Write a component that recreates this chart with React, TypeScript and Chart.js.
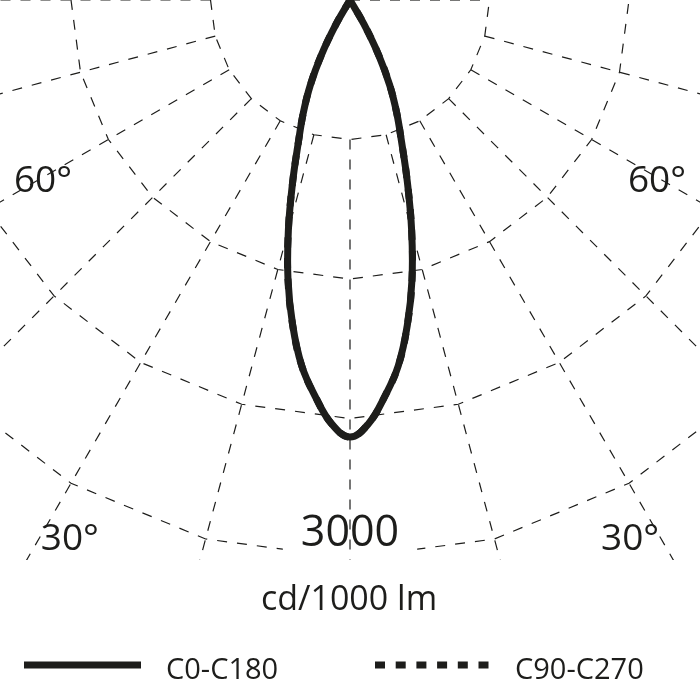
import React, { useEffect, useRef } from "react";
import { Chart, registerables } from "chart.js";

Chart.register(...registerables);

// Gamma angles (deg) and luminous intensity (cd/1000 lm)
const gammaAngles = [0, 2.5, 5, 7.5, 10, 12.5, 15, 17.5, 20, 22.5, 25, 27.5, 30, 32.5];
const c0Values = [2350, 2280, 2140, 1985, 1775, 1540, 1280, 1025, 810, 655, 505, 335, 150, 0];
const c180Values = [2350, 2280, 2140, 1985, 1775, 1540, 1280, 1025, 810, 655, 505, 335, 150, 0];
const c90Values = [2350, 2280, 2140, 1985, 1775, 1540, 1280, 1025, 810, 655, 505, 335, 150, 0];
const c270Values = [2350, 2280, 2140, 1985, 1775, 1540, 1280, 1025, 810, 655, 505, 335, 150, 0];

// Polar grid
const ringValues = [750, 1500, 2250, 3000];
const gridAngles = [-90, -75, -60, -45, -30, -15, 0, 15, 30, 45, 60, 75, 90];
const angleLabelValues = [60, 30];
const radialTickLabel = "3000";
const unitLabel = "cd/1000 lm";
const seriesNames = ["C0-C180", "C90-C270"];

// Layout / style constants
const PX_PER_CD = 558 / 3000;
const X_HALF = 350 / PX_PER_CD;
const Y_DEPTH = 700 / PX_PER_CD;
const SPOKE_END = 8000;
const GRID_BOTTOM_PX = 560;
const INK = "#1d1d1b";
const FONT = '"Open Sans", "Noto Sans", sans-serif';
const D = Math.PI / 180;
const ANGLE_LABEL_POS: Record<number, { a: number; r: number }> = {
  60: { a: 58, r: 362 / PX_PER_CD },
  30: { a: 27, r: 617 / PX_PER_CD },
};

function polar(aDeg: number, r: number) {
  return { x: r * Math.sin(aDeg * D), y: -r * Math.cos(aDeg * D) };
}

function buildCurve(left: number[], right: number[]) {
  const pts: { x: number; y: number }[] = [];
  for (let i = gammaAngles.length - 1; i >= 0; i--) pts.push(polar(-gammaAngles[i], left[i]));
  for (let i = 1; i < gammaAngles.length; i++) pts.push(polar(gammaAngles[i], right[i]));
  return pts;
}

function pixelFn(chart: any) {
  const xs = chart.scales.x;
  const ys = chart.scales.y;
  return (a: number, r: number): [number, number] => {
    const p = polar(a, r);
    return [xs.getPixelForValue(p.x), ys.getPixelForValue(p.y)];
  };
}

const polarGridPlugin = {
  id: "polarGrid",
  beforeDatasetsDraw(chart: any) {
    const { ctx } = chart;
    const P = pixelFn(chart);
    const top = chart.chartArea.top;
    ctx.save();
    ctx.beginPath();
    ctx.rect(0, 0, chart.width, top + GRID_BOTTOM_PX);
    ctx.clip();
    ctx.strokeStyle = INK;
    ctx.lineWidth = 1.2;
    ctx.setLineDash([10, 10]);
    ctx.font = `43px ${FONT}`;
    const tw = ctx.measureText(radialTickLabel).width;
    const [cx] = P(0, 0);
    ringValues.forEach((r, k) => {
      ctx.save();
      if (k === ringValues.length - 1) {
        ctx.beginPath();
        ctx.rect(0, 0, chart.width, chart.height);
        ctx.rect(cx - tw / 2 - 18, 0, tw + 36, chart.height);
        ctx.clip("evenodd");
      }
      ctx.beginPath();
      gridAngles.forEach((a, i) => {
        const [px, py] = P(a, r);
        if (i === 0) ctx.moveTo(px, py);
        else ctx.lineTo(px, py);
      });
      ctx.stroke();
      ctx.restore();
    });
    const r0 = ringValues[0];
    gridAngles.forEach((a) => {
      let from = r0;
      let to = SPOKE_END;
      if (a === 90) {
        from = 0;
        to = r0;
      }
      const [x1, y1] = P(a, from);
      const [x2, y2] = P(a, to);
      ctx.beginPath();
      ctx.moveTo(x1, y1);
      ctx.lineTo(x2, y2);
      ctx.stroke();
    });
    ctx.restore();
  },
  afterDatasetsDraw(chart: any) {
    const { ctx } = chart;
    const P = pixelFn(chart);
    const top = chart.chartArea.top;
    const left = chart.chartArea.left;
    ctx.save();
    ctx.fillStyle = INK;
    ctx.textAlign = "center";
    ctx.textBaseline = "alphabetic";
    ctx.font = `37px ${FONT}`;
    angleLabelValues.forEach((v) => {
      const pos = ANGLE_LABEL_POS[v];
      [-1, 1].forEach((s) => {
        const [px, py] = P(s * pos.a, pos.r);
        ctx.fillText(`${v}°`, px, py);
      });
    });
    ctx.font = `43px ${FONT}`;
    const outer = ringValues[ringValues.length - 1];
    const [tx, ty] = P(0, outer);
    ctx.fillText(radialTickLabel, tx, ty - 12);
    ctx.font = `34px ${FONT}`;
    ctx.fillText(unitLabel, tx - 1, top + 610);

    // legend
    const items = [
      { x: left + 24, len: 117 },
      { x: left + 375, len: 115 },
    ];
    const ly = top + 665;
    ctx.font = `29px ${FONT}`;
    ctx.textAlign = "left";
    chart.data.datasets.forEach((ds: any, i: number) => {
      const it = items[i];
      ctx.save();
      ctx.strokeStyle = ds.borderColor;
      ctx.lineWidth = ds.borderWidth;
      ctx.lineCap = "butt";
      ctx.setLineDash(ds.borderDash || []);
      ctx.beginPath();
      ctx.moveTo(it.x, ly);
      ctx.lineTo(it.x + it.len, ly);
      ctx.stroke();
      ctx.restore();
      ctx.fillText(ds.label, it.x + it.len + 25, top + 679);
    });
    ctx.restore();
  },
};

export default function App() {
  const ref = useRef<HTMLCanvasElement | null>(null);
  useEffect(() => {
    if (!ref.current) return;
    const chart = new Chart(ref.current, {
      type: "scatter",
      data: {
        datasets: [
          {
            label: seriesNames[0],
            data: buildCurve(c180Values, c0Values),
            showLine: true,
            borderColor: INK,
            backgroundColor: INK,
            borderWidth: 7,
            borderJoinStyle: "round",
            pointRadius: 0,
            tension: 0.4,
            fill: false,
          },
          {
            label: seriesNames[1],
            data: buildCurve(c270Values, c90Values),
            showLine: true,
            borderColor: INK,
            backgroundColor: INK,
            borderWidth: 7,
            borderDash: [10, 10.7],
            pointRadius: 0,
            tension: 0.4,
            fill: false,
          },
        ],
      },
      options: {
        animation: false,
        responsive: true,
        maintainAspectRatio: false,
        layout: { padding: 0 },
        plugins: {
          legend: { display: false },
          tooltip: { enabled: false },
        },
        scales: {
          x: { type: "linear", min: -X_HALF, max: X_HALF, display: false },
          y: { type: "linear", min: -Y_DEPTH, max: 0, display: false },
        },
      },
      plugins: [polarGridPlugin],
    });
    return () => chart.destroy();
  }, []);
  return (
    <div
      style={{
        position: "fixed",
        left: 0,
        top: 0,
        width: 700,
        height: 700,
        background: "#fff",
      }}
    >
      <canvas ref={ref} />
    </div>
  );
}
